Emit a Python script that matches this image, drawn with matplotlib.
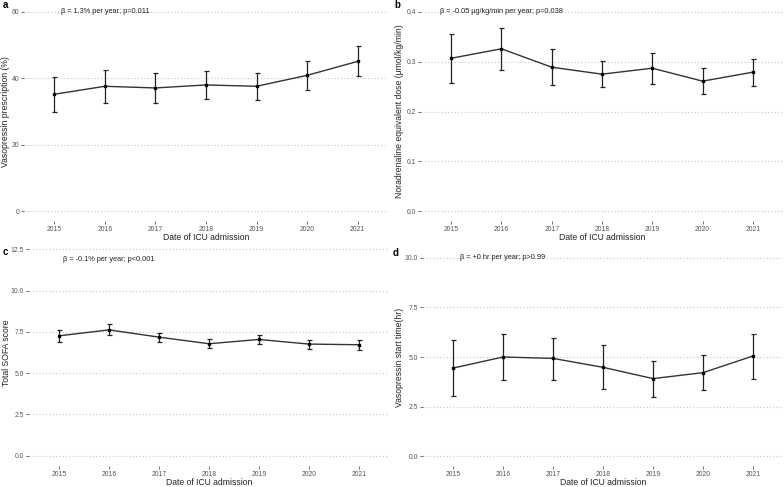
import matplotlib
matplotlib.use("Agg")
import matplotlib.pyplot as plt
import numpy as np

plt.rcParams['font.family'] = ['Liberation Sans', 'DejaVu Sans']

years = [2015, 2016, 2017, 2018, 2019, 2020, 2021]

# Panel a: vasopressin prescription (%)
a_mean = [35.2, 37.6, 37.1, 38.0, 37.6, 40.9, 45.1]
a_low = [30.0, 32.7, 32.7, 33.7, 33.4, 36.5, 40.6]
a_high = [40.5, 42.5, 41.7, 42.2, 41.7, 45.3, 49.6]

# Panel b: noradrenaline equivalent dose
b_mean = [0.307, 0.326, 0.289, 0.275, 0.287, 0.261, 0.279]
b_low = [0.258, 0.283, 0.253, 0.250, 0.256, 0.236, 0.252]
b_high = [0.356, 0.368, 0.326, 0.301, 0.318, 0.287, 0.305]

# Panel c: total SOFA score
c_mean = [7.26, 7.62, 7.18, 6.78, 7.04, 6.76, 6.72]
c_low = [6.88, 7.30, 6.88, 6.51, 6.78, 6.47, 6.43]
c_high = [7.62, 7.96, 7.46, 7.04, 7.32, 7.01, 6.98]

# Panel d: vasopressin start time (hr)
d_mean = [4.44, 5.00, 4.93, 4.48, 3.91, 4.21, 5.05]
d_low = [3.01, 3.84, 3.86, 3.37, 3.00, 3.35, 3.91]
d_high = [5.86, 6.14, 5.98, 5.62, 4.80, 5.08, 6.16]

panels = [
    dict(letter='a', mean=a_mean, low=a_low, high=a_high,
         ylabel='Vasopressin prescription (%)', ticks=[0, 20, 40, 60],
         ticklabels=['0', '20', '40', '60'],
         text='β = 1.3% per year; p=0.011', ty=60,
         rect=(24, 2, 388, 221), lab=(3, 5), ylab_x=6),
    dict(letter='b', mean=b_mean, low=b_low, high=b_high,
         ylabel='Noradrenaline equivalent dose (μmol/kg/min)', ticks=[0.0, 0.1, 0.2, 0.3, 0.4],
         ticklabels=['0.0', '0.1', '0.2', '0.3', '0.4'],
         text='β = -0.05 μg/kg/min per year; p=0.038', ty=0.4,
         rect=(421, 2, 783, 221), lab=(394, 5), ylab_x=400),
    dict(letter='c', mean=c_mean, low=c_low, high=c_high,
         ylabel='Total SOFA score', ticks=[0, 2.5, 5.0, 7.5, 10.0, 12.5],
         ticklabels=['0.0', '2.5', '5.0', '7.5', '10.0', '12.5'],
         text='β = -0.1% per year; p<0.001', ty=11.9,
         rect=(29, 239, 389, 466), lab=(3, 252), ylab_x=6.5),
    dict(letter='d', mean=d_mean, low=d_low, high=d_high,
         ylabel='Vasopressin start time(hr)', ticks=[0, 2.5, 5.0, 7.5, 10.0],
         ticklabels=['0.0', '2.5', '5.0', '7.5', '10.0'],
         text='β = +0 hr per year; p>0.99', ty=10.0,
         rect=(423, 248, 783, 466), lab=(393, 253), ylab_x=400),
]

W, H = 784, 487
fig = plt.figure(figsize=(W / 100, H / 100), dpi=100)
fig.patch.set_facecolor('white')

for p in panels:
    x0, y0, x1, y1 = p['rect']
    ax = fig.add_axes([x0 / W, 1 - y1 / H, (x1 - x0) / W, (y1 - y0) / H])
    ax.patch.set_alpha(0)
    m = np.array(p['mean'])
    lo = np.array(p['low'])
    hi = np.array(p['high'])
    ax.errorbar(years, m, yerr=[m - lo, hi - m], fmt='none', ecolor='#222222',
                elinewidth=0.9, capsize=1.8, capthick=0.9, zorder=3)
    ax.plot(years, m, color='#333333', lw=1.0, zorder=4)
    ax.plot(years, m, 's', color='black', ms=1.9, zorder=5)
    top = p['ticks'][-1]
    ax.set_ylim(-0.05 * top, top * 1.05)
    ax.set_xlim(2014.4, 2021.6)
    ax.set_yticks(p['ticks'])
    ax.set_yticklabels(p['ticklabels'])
    ax.set_xticks(years)
    ax.set_xticklabels([str(y) for y in years])
    for t in p['ticks']:
        ax.axhline(t, color='#c8c8c8', lw=0.8, ls=(0, (1, 2)), zorder=1)
    for s in ax.spines.values():
        s.set_visible(False)
    ax.tick_params(axis='both', length=2, width=0.6, color='#555555',
                   labelsize=4.9, labelcolor='#555555', pad=1.5)
    ax.set_xlabel('Date of ICU admission', fontsize=6.2, color='#222222', labelpad=0)
    ax.text(2016, p['ty'], p['text'], ha='center', va='center', fontsize=5.3,
            color='#222222', zorder=6)
    fig.text(p['ylab_x'] / W, 1 - ((y0 + y1) / 2) / H, p['ylabel'], rotation=90,
             ha='center', va='center', fontsize=6.2, color='#222222')
    fig.text(p['lab'][0] / W, 1 - p['lab'][1] / H, p['letter'], fontsize=7,
             fontweight='bold', ha='left', va='center', color='black')

fig.savefig('out.png', dpi=100, facecolor='white')
